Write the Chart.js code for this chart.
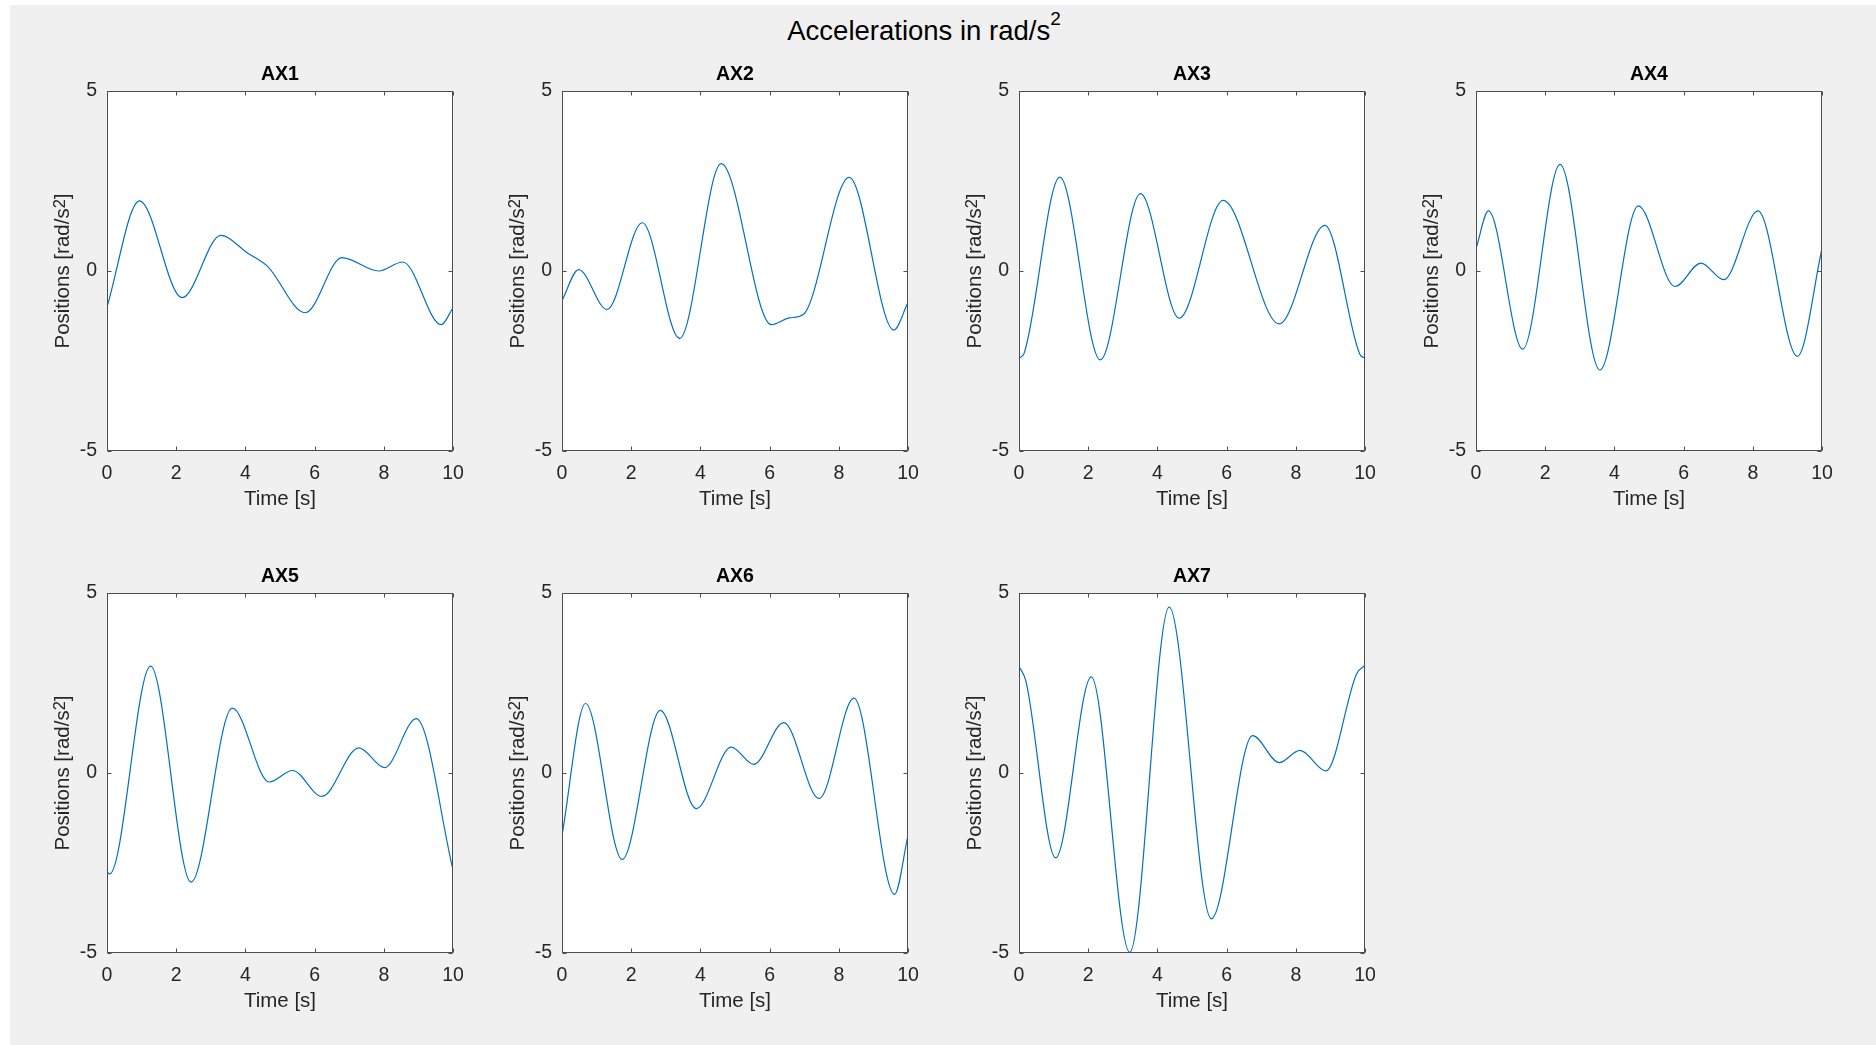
<!DOCTYPE html>
<html>
<head>
<meta charset="utf-8">
<title>Accelerations in rad/s2</title>
<script src="https://cdn.jsdelivr.net/npm/chart.js@4.4.1/dist/chart.umd.min.js"></script>
<style>
  html, body { margin: 0; padding: 0; background: #ffffff; }
  #figure { position: absolute; left: 10px; top: 5px; width: 1866px; height: 1040px; background: #f0f0f0; }
  canvas.panel { position: absolute; }
  #suptitle {
    position: absolute; left: 924px; top: 17px; transform: translateX(-50%);
    font: 27.5px/27.5px "Liberation Sans", Arial, sans-serif; color: #000; white-space: nowrap;
  }
  #suptitle span { font-size: 19px; position: relative; top: -15px; }
</style>
</head>
<body>
<div id="figure"></div>
<div id="suptitle">Accelerations in rad/s<span>2</span></div>

<script>
// sampled joint accelerations (time in s, value in rad/s^2)
const ax1Time  = [0, 0.94, 2.17, 3.29, 4.06, 4.64, 5.73, 6.79, 7.85, 8.55, 9.66, 10];
const ax1Accel = [-1.00, 1.95, -0.74, 0.99, 0.50, 0.13, -1.16, 0.37, 0.00, 0.25, -1.49, -1.02];

const ax2Time  = [0, 0.48, 1.30, 2.32, 3.40, 4.60, 6.05, 6.58, 6.97, 8.30, 9.59, 10];
const ax2Accel = [-0.82, 0.04, -1.07, 1.34, -1.87, 2.98, -1.49, -1.30, -1.21, 2.60, -1.64, -0.87];

const ax3Time  = [0, 0.15, 1.18, 2.35, 3.51, 4.63, 5.90, 7.52, 8.84, 9.85, 10];
const ax3Accel = [-2.42, -2.28, 2.61, -2.47, 2.15, -1.31, 1.96, -1.47, 1.27, -2.31, -2.42];

const ax4Time  = [0, 0.36, 1.35, 2.43, 3.58, 4.69, 5.75, 6.50, 7.16, 8.15, 9.29, 10];
const ax4Accel = [0.62, 1.67, -2.17, 2.96, -2.75, 1.81, -0.43, 0.22, -0.24, 1.67, -2.37, 0.62];

const ax5Time  = [0, 0.08, 1.26, 2.43, 3.62, 4.69, 5.36, 6.21, 7.28, 8.02, 8.94, 10];
const ax5Accel = [-2.75, -2.80, 2.97, -3.03, 1.80, -0.25, 0.07, -0.65, 0.70, 0.15, 1.51, -2.69];

const ax6Time  = [0, 0.68, 1.74, 2.84, 3.88, 4.89, 5.54, 6.41, 7.43, 8.44, 9.61, 10];
const ax6Accel = [-1.73, 1.93, -2.40, 1.74, -0.99, 0.72, 0.24, 1.40, -0.71, 2.08, -3.37, -1.73];

const ax7Time  = [0, 0.20, 1.06, 2.09, 3.20, 4.34, 5.56, 6.75, 7.52, 8.12, 8.87, 9.76, 10];
const ax7Accel = [2.96, 2.55, -2.36, 2.67, -4.98, 4.61, -4.05, 1.04, 0.29, 0.63, 0.06, 2.76, 2.99];

const panelTitles = ['AX1', 'AX2', 'AX3', 'AX4', 'AX5', 'AX6', 'AX7'];
const panelTimes  = [ax1Time, ax2Time, ax3Time, ax4Time, ax5Time, ax6Time, ax7Time];
const panelAccels = [ax1Accel, ax2Accel, ax3Accel, ax4Accel, ax5Accel, ax6Accel, ax7Accel];

const timeTicks  = [0, 2, 4, 6, 8, 10];
const accelTicks = [-5, 0, 5];

const FONT = '"Liberation Sans", Arial, sans-serif';
const AXIS_COLOR = '#262626';
const LINE_COLOR = '#0072bd';

// plot-box origins on the page, 4 columns x 2 rows
const colLeft = [107, 562, 1019, 1476];
const rowTop = [91, 593];
const LEFT_MARGIN = 100, TOP_MARGIN = 40, BOTTOM_MARGIN = 70, RIGHT_MARGIN = 24;
const BOX_W = 346, BOX_H = 360;

function drawYTitle(ctx, area) {
    const main = '20.5px ' + FONT;
    const sup = '16.5px ' + FONT;
    const parts = [
        { text: 'Positions [rad/s', font: main, rise: 0 },
        { text: '2', font: sup, rise: 4 },
        { text: ']', font: main, rise: 0 }
    ];
    ctx.save();
    let total = 0;
    parts.forEach(p => { ctx.font = p.font; p.w = ctx.measureText(p.text).width; total += p.w; });
    ctx.translate(area.left - 38.5, (area.top + area.bottom) / 2);
    ctx.rotate(-Math.PI / 2);
    ctx.fillStyle = AXIS_COLOR;
    ctx.textBaseline = 'alphabetic';
    let x = -total / 2;
    parts.forEach(p => { ctx.font = p.font; ctx.fillText(p.text, x, -p.rise); x += p.w; });
    ctx.restore();
}

// white plot box, box outline with inward ticks on all sides, y-axis label
const axesFrame = {
    id: 'axesFrame',
    beforeDraw(chart) {
        const { ctx, chartArea: a } = chart;
        ctx.save();
        ctx.fillStyle = '#ffffff';
        ctx.fillRect(a.left, a.top, a.right - a.left, a.bottom - a.top);
        ctx.restore();
    },
    afterDraw(chart) {
        const { ctx, chartArea: a, scales } = chart;
        const L = Math.round(a.left) + 0.5, R = Math.round(a.right) - 0.5;
        const T = Math.round(a.top) + 0.5, B = Math.round(a.bottom) - 0.5;
        const tick = 4;
        ctx.save();
        ctx.strokeStyle = '#4d4d4d';
        ctx.lineWidth = 1;
        ctx.strokeRect(L, T, R - L, B - T);
        ctx.beginPath();
        scales.x.ticks.forEach(t => {
            const px = Math.round(scales.x.getPixelForValue(t.value)) + 0.5;
            ctx.moveTo(px, B); ctx.lineTo(px, B - tick);
            ctx.moveTo(px, T); ctx.lineTo(px, T + tick);
        });
        scales.y.ticks.forEach(t => {
            const py = Math.round(scales.y.getPixelForValue(t.value)) + 0.5;
            ctx.moveTo(L, py); ctx.lineTo(L + tick, py);
            ctx.moveTo(R, py); ctx.lineTo(R - tick, py);
        });
        ctx.stroke();
        ctx.restore();
        drawYTitle(ctx, a);
    }
};

function makePanel(i) {
    const col = i % 4, row = Math.floor(i / 4);
    const w = LEFT_MARGIN + BOX_W + RIGHT_MARGIN;
    const h = TOP_MARGIN + BOX_H + BOTTOM_MARGIN;
    const canvas = document.createElement('canvas');
    canvas.className = 'panel';
    canvas.width = w;
    canvas.height = h;
    canvas.style.width = w + 'px';
    canvas.style.height = h + 'px';
    canvas.style.left = (colLeft[col] - LEFT_MARGIN) + 'px';
    canvas.style.top = (rowTop[row] - TOP_MARGIN) + 'px';
    document.body.appendChild(canvas);

    const times = panelTimes[i];
    const points = panelAccels[i].map((v, k) => ({ x: times[k], y: v }));

    return new Chart(canvas, {
        type: 'line',
        data: {
            datasets: [{
                label: panelTitles[i],
                data: points,
                borderColor: LINE_COLOR,
                borderWidth: 1.2,
                pointRadius: 0,
                fill: false,
                cubicInterpolationMode: 'monotone'
            }]
        },
        options: {
            responsive: false,
            animation: false,
            events: [],
            layout: { padding: { left: 0, top: 0, right: RIGHT_MARGIN, bottom: 0 } },
            plugins: {
                legend: { display: false },
                tooltip: { enabled: false },
                title: {
                    display: true,
                    fullSize: false,
                    text: panelTitles[i],
                    color: '#000000',
                    font: { family: FONT, size: 19.5, weight: 'bold', lineHeight: 1.2 },
                    padding: { top: 12.3, bottom: 4.3 }
                }
            },
            scales: {
                x: {
                    type: 'linear',
                    min: 0,
                    max: 10,
                    afterBuildTicks: s => { s.ticks = timeTicks.map(v => ({ value: v })); },
                    afterFit: s => { s.height = BOTTOM_MARGIN; },
                    grid: { display: false, drawTicks: false },
                    border: { display: false },
                    ticks: {
                        color: AXIS_COLOR,
                        font: { family: FONT, size: 19.5, lineHeight: 1.2 },
                        padding: 11,
                        maxRotation: 0,
                        autoSkip: false
                    },
                    title: {
                        display: true,
                        text: 'Time [s]',
                        color: AXIS_COLOR,
                        font: { family: FONT, size: 20.5, lineHeight: 1.2 },
                        padding: { top: 0, bottom: 9 }
                    }
                },
                y: {
                    type: 'linear',
                    min: -5,
                    max: 5,
                    afterBuildTicks: s => { s.ticks = accelTicks.map(v => ({ value: v })); },
                    afterFit: s => { s.width = LEFT_MARGIN; },
                    grid: { display: false, drawTicks: false },
                    border: { display: false },
                    ticks: {
                        color: AXIS_COLOR,
                        font: { family: FONT, size: 19.5, lineHeight: 1.2 },
                        padding: 10,
                        autoSkip: false
                    }
                }
            }
        },
        plugins: [axesFrame]
    });
}

const charts = panelTitles.map((_, i) => makePanel(i));
</script>
</body>
</html>
